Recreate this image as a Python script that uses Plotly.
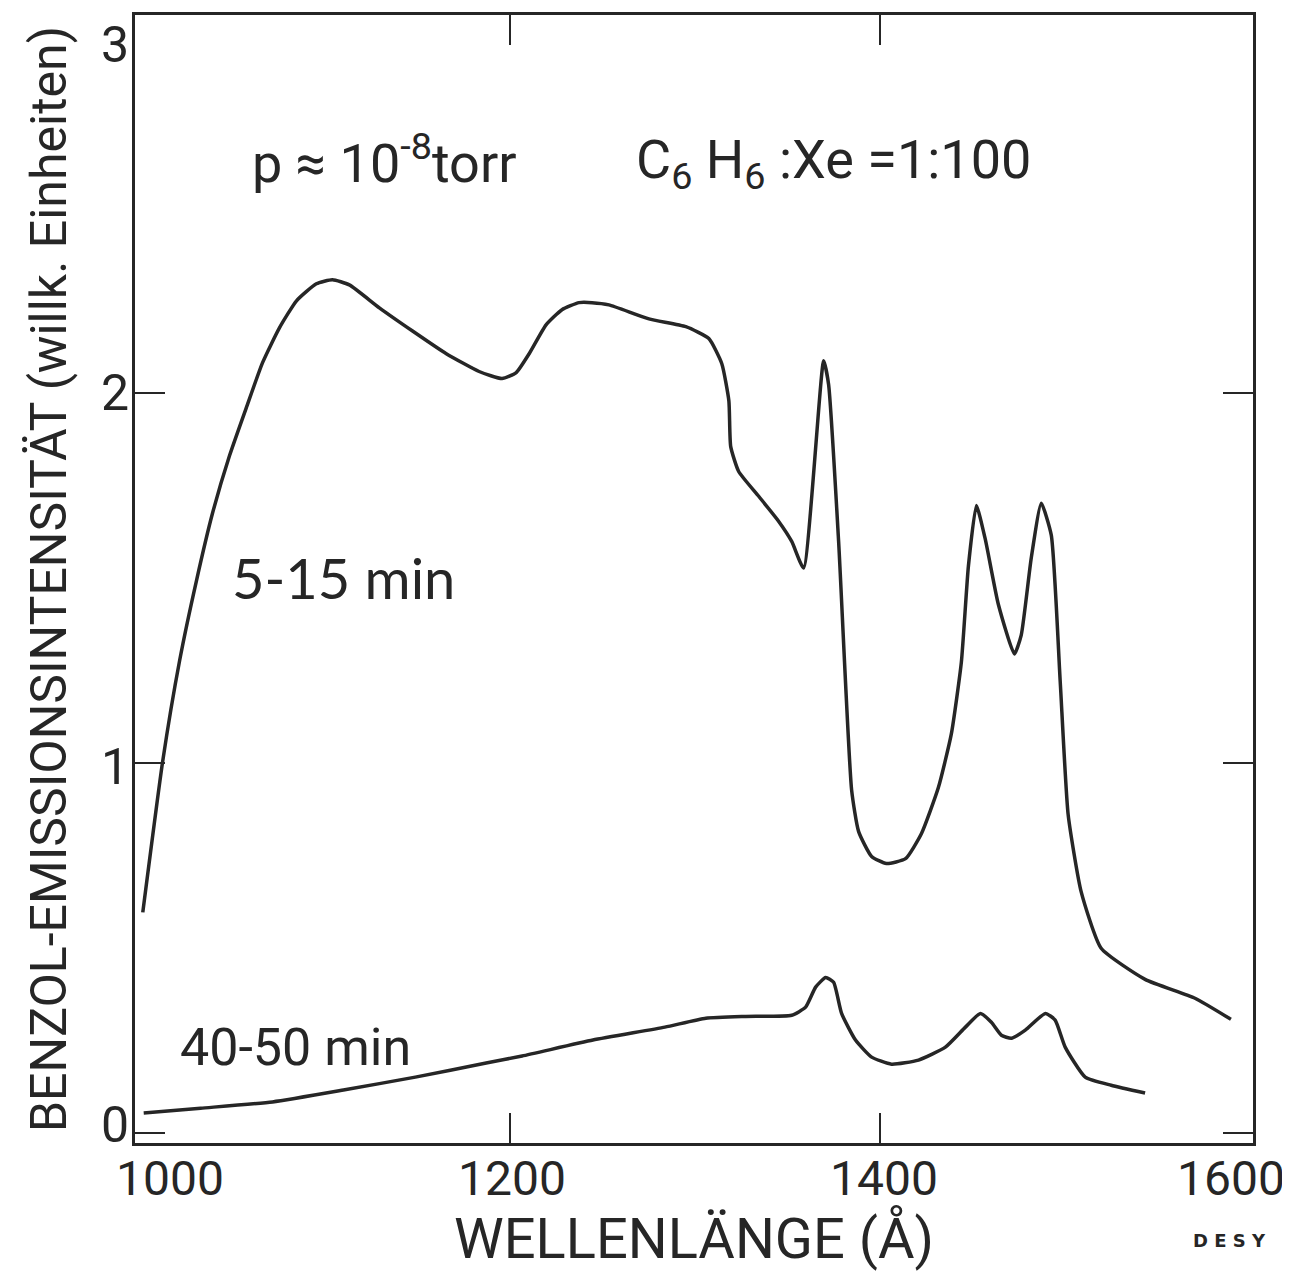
import plotly.graph_objects as go

# 5-15 min curve
wl_early = [1002.2, 1012.9, 1022.1, 1031.2, 1039.8, 1049.0, 1058.1, 1066.8, 1075.9, 1085.1,
            1095.8, 1104.5, 1113.6, 1129.8, 1147.5, 1165.9, 1183.6, 1196.0, 1203.6, 1210.6,
            1219.7, 1228.3, 1237.5, 1244.5, 1253.6, 1275.2, 1295.1, 1307.5, 1314.5, 1318.3,
            1319.3, 1323.6, 1334.4, 1345.2, 1352.2, 1358.6, 1369.4, 1372.1, 1377.5, 1384.5,
            1388.3, 1395.3, 1403.3, 1413.6, 1422.2, 1431.3, 1438.3, 1443.7, 1447.5, 1451.8,
            1456.6, 1463.6, 1472.3, 1476.0, 1481.4, 1486.8, 1492.2, 1497.0, 1501.3, 1508.3,
            1519.1, 1542.8, 1569.7, 1589.1]
int_early = [0.596, 1.003, 1.277, 1.493, 1.674, 1.830, 1.960, 2.081, 2.175, 2.248,
             2.294, 2.305, 2.291, 2.229, 2.167, 2.105, 2.057, 2.038, 2.054, 2.105,
             2.183, 2.224, 2.243, 2.243, 2.237, 2.199, 2.178, 2.146, 2.078, 1.978,
             1.854, 1.787, 1.720, 1.652, 1.598, 1.526, 2.086, 2.022, 1.598, 0.927,
             0.814, 0.747, 0.728, 0.741, 0.809, 0.933, 1.078, 1.272, 1.531, 1.695,
             1.604, 1.429, 1.294, 1.345, 1.553, 1.701, 1.615, 1.221, 0.860, 0.652,
             0.499, 0.415, 0.364, 0.307]

# 40-50 min curve
wl_late = [1002.7, 1033.4, 1072.2, 1110.4, 1149.2, 1187.4, 1206.8, 1245.0, 1283.8, 1305.9,
           1327.4, 1352.2, 1359.7, 1365.1, 1370.5, 1374.8, 1379.1, 1386.6, 1395.3, 1406.0,
           1420.6, 1435.1, 1445.9, 1454.0, 1459.9, 1465.3, 1470.7, 1478.2, 1489.0, 1494.3,
           1499.7, 1510.5, 1524.5, 1542.8]
int_late = [0.054, 0.067, 0.084, 0.116, 0.151, 0.189, 0.208, 0.251, 0.286, 0.310,
            0.315, 0.318, 0.340, 0.394, 0.420, 0.407, 0.323, 0.251, 0.205, 0.186,
            0.197, 0.232, 0.286, 0.323, 0.299, 0.264, 0.256, 0.278, 0.323, 0.305,
            0.232, 0.151, 0.129, 0.108]

x_ticks = [1000, 1200, 1400, 1600]
x_ticklabels = ["1000", "1200", "1400", "1600"]
y_ticks = [0, 1, 2, 3]
y_ticklabels = ["0", "1", "2", "3"]

X_RANGE = [998, 1601]
Y_RANGE = [-0.027, 3.02]

# label offsets (pixels) to mimic the hand-lettered placement
x_label_shift = [31, 2, 4, -20]
y_label_shift = [8, -4, 0, -23]

FONT = "Roboto, Noto Sans, sans-serif"
INK = "#262626"

fig = go.Figure()
fig.add_trace(go.Scatter(x=wl_early, y=int_early, mode="lines",
                         line=dict(color=INK, width=3.5, shape="spline", smoothing=0.5),
                         showlegend=False, hoverinfo="skip"))
fig.add_trace(go.Scatter(x=wl_late, y=int_late, mode="lines",
                         line=dict(color=INK, width=3.5, shape="spline", smoothing=0.5),
                         showlegend=False, hoverinfo="skip"))

axis_common = dict(showgrid=False, zeroline=False, showline=True, linecolor=INK, linewidth=3,
                   mirror="ticks", ticks="inside", ticklen=30, tickwidth=2, tickcolor=INK,
                   showticklabels=False)

fig.update_xaxes(range=X_RANGE,
                 tickvals=[v for v in x_ticks if X_RANGE[0] + 5 < v < X_RANGE[1] - 5],
                 title=dict(text="WELLENLÄNGE (Å)", font=dict(family=FONT, size=56, color=INK),
                            standoff=74),
                 **axis_common)
fig.update_yaxes(range=Y_RANGE,
                 tickvals=[v for v in y_ticks if Y_RANGE[0] + 0.02 < v < Y_RANGE[1] - 0.02],
                 title=dict(text="BENZOL-EMISSIONSINTENSITÄT (willk. Einheiten)",
                            font=dict(family=FONT, size=50, color=INK), standoff=50),
                 **axis_common)

annotations = []
for v, t, s in zip(x_ticks, x_ticklabels, x_label_shift):
    annotations.append(dict(x=v, y=Y_RANGE[0], xref="x", yref="y", xanchor="center",
                            yanchor="top", xshift=s, yshift=-5, text=t, showarrow=False,
                            font=dict(family=FONT, size=48, color=INK)))
for v, t, s in zip(y_ticks, y_ticklabels, y_label_shift):
    annotations.append(dict(x=X_RANGE[0], y=v, xref="x", yref="y", xanchor="right",
                            yanchor="middle", xshift=-4, yshift=s, text=t, showarrow=False,
                            font=dict(family=FONT, size=50, color=INK)))

annotations += [
    dict(x=1060, y=2.63, xref="x", yref="y", xanchor="left", yanchor="middle",
         text="p ≈ 10<sup>-8</sup>torr", showarrow=False,
         font=dict(family=FONT, size=54, color=INK)),
    dict(x=1267, y=2.62, xref="x", yref="y", xanchor="left", yanchor="middle",
         text="C<sub>6</sub> H<sub>6</sub> :Xe =1:100", showarrow=False,
         font=dict(family=FONT, size=54, color=INK)),
    dict(x=1049, y=1.50, xref="x", yref="y", xanchor="left", yanchor="middle",
         text="5-15 min", showarrow=False,
         font=dict(family="Lato, Open Sans, sans-serif", size=56, color=INK)),
    dict(x=1021, y=0.23, xref="x", yref="y", xanchor="left", yanchor="middle",
         text="40-50 min", showarrow=False,
         font=dict(family=FONT, size=52, color=INK)),
    dict(x=1600, y=Y_RANGE[0], xref="x", yref="y", xanchor="center", yanchor="middle",
         xshift=-22, yshift=-97, text="D E S Y", showarrow=False,
         font=dict(family="DejaVu Sans, sans-serif", size=18, color=INK, weight="bold")),
]

# the page body adds an 8px margin, so the figure is shrunk to avoid scrollbars
fig.update_layout(width=1282, height=1266, paper_bgcolor="white", plot_bgcolor="white",
                  margin=dict(l=127, r=37, t=4, b=131), annotations=annotations)

fig.write_html("out.html")
